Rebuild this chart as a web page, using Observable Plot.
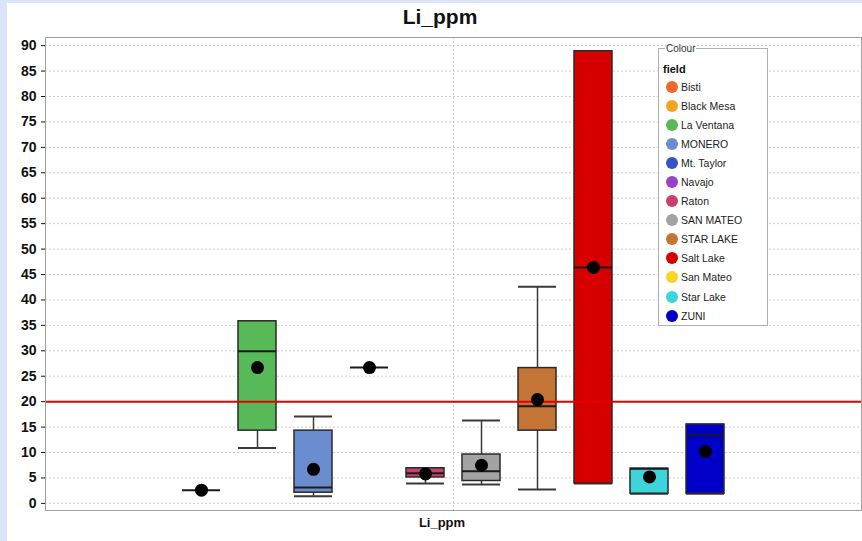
<!DOCTYPE html>
<html>
<head>
<meta charset="utf-8">
<script src="https://cdn.jsdelivr.net/npm/d3@7"></script>
<script src="https://cdn.jsdelivr.net/npm/@observablehq/plot@0.6"></script>
<style>
  html, body { margin: 0; padding: 0; }
  body { width: 862px; height: 541px; background: #dae6f8; position: relative; overflow: hidden; font-family: "Liberation Sans", Arial, sans-serif; }
  #panel { position: absolute; left: 7px; top: 3px; width: 855px; height: 538px; background: #fff; }
  #chart { position: absolute; left: 0; top: 0; }
  #title { position: absolute; left: 433px; top: 2px; transform: translateX(-50%); font-weight: bold; font-size: 21px; color: #111; white-space: nowrap; }
  #xlabel { position: absolute; left: 435px; top: 512px; transform: translateX(-50%); font-weight: bold; font-size: 13px; color: #111; white-space: nowrap; }
  #legend { position: absolute; left: 651px; top: 40px; width: 110px; height: 283px; box-sizing: border-box; margin: 0; padding: 0 0 0 4px; border: 1px solid #b0b0b0; background: #fff; font-family: "Liberation Sans", Arial, sans-serif; }
  #legend legend { font-size: 10px; color: #333; padding: 0 1px; margin-left: 2px; }
  #legend .hdr { font-weight: bold; font-size: 11px; color: #111; margin-top: 9px; height: 14px; }
  #legend .item { display: flex; align-items: center; height: 19.1px; font-size: 10.5px; color: #222; }
  #legend .sw { width: 12px; height: 12px; border-radius: 50%; margin: 0 3px 0 3px; flex: none; }
</style>
</head>
<body>
<div id="panel">
  <div id="chart"></div>
  <div id="title">Li_ppm</div>
  <div id="xlabel">Li_ppm</div>
  <fieldset id="legend"><legend>Colour</legend><div class="hdr">field</div><div id="items"></div></fieldset>
</div>
<script>
// Legend categories and colours
const legendNames = ["Bisti","Black Mesa","La Ventana","MONERO","Mt. Taylor","Navajo","Raton","SAN MATEO","STAR LAKE","Salt Lake","San Mateo","Star Lake","ZUNI"];
const legendColors = ["#f0662b","#f8a320","#57b957","#6b8cce","#3553c9","#9a42c8","#c9416b","#a3a3a3","#c47535","#d60000","#f7d427","#3cd5d9","#0000c8"];

// Series shown in the plot (box statistics, Li ppm)
const series  = ["Bisti","La Ventana","MONERO","Mt. Taylor","Raton","SAN MATEO","STAR LAKE","Salt Lake","Star Lake","ZUNI"];
const mins    = [2.6, 10.9, 1.4, 26.7, 3.9, 3.7, 2.75, 3.9, 1.9, 1.9];
const q1s     = [2.6, 14.3, 2.1, 26.7, 5.1, 4.4, 14.3, 3.9, 1.9, 1.9];
const medians = [2.6, 29.9, 3.1, 26.7, 5.9, 6.3, 19.1, 46.4, 6.8, 13.4];
const q3s     = [2.6, 35.8, 14.3, 26.7, 6.9, 9.6, 26.6, 88.9, 6.8, 15.5];
const maxs    = [2.6, 35.8, 17.1, 26.7, 6.9, 16.3, 42.6, 88.9, 6.8, 15.5];
const means   = [2.6, 26.7, 6.7, 26.7, 5.8, 7.5, 20.4, 46.4, 5.2, 10.2];

const yTicks = [0,5,10,15,20,25,30,35,40,45,50,55,60,65,70,75,80,85,90];
const threshold = [20];

const rows = series.map((s, i) => ({series: s, min: mins[i], q1: q1s[i], median: medians[i], q3: q3s[i], max: maxs[i], mean: means[i]}));
const boxed = rows.filter(d => d.q3 > d.q1);

const chart = Plot.plot({
  width: 855,
  height: 538,
  marginLeft: 38,
  marginRight: 1,
  marginTop: 34,
  marginBottom: 31,
  style: {fontFamily: "Liberation Sans, Arial, sans-serif", fontSize: "14px", fontWeight: "bold", color: "#111", background: "transparent"},
  x: {type: "band", domain: series, paddingInner: 0.317, paddingOuter: 2.39, align: 0.5, axis: null},
  y: {domain: [-1.4, 91.6], ticks: yTicks, tickSize: 4, tickPadding: 5, label: null},
  color: {domain: legendNames, range: legendColors},
  marks: [
    Plot.ruleY(yTicks, {stroke: "#cdcdcd", strokeDasharray: "2,2"}),
    Plot.ruleX([0], {x: null, stroke: "#cdcdcd", strokeDasharray: "2,2"}),
    Plot.ruleX(rows, {x: "series", y1: "q3", y2: "max", stroke: "#3a3a3a", strokeWidth: 1.5}),
    Plot.ruleX(rows, {x: "series", y1: "min", y2: "q1", stroke: "#3a3a3a", strokeWidth: 1.5}),
    Plot.tickY(boxed, {x: "series", y: "max", stroke: "#3a3a3a", strokeWidth: 2}),
    Plot.tickY(boxed, {x: "series", y: "min", stroke: "#3a3a3a", strokeWidth: 2}),
    Plot.barY(rows, {x: "series", y1: "q1", y2: "q3", fill: "series", stroke: "#2a2a2a", strokeWidth: 1.5}),
    Plot.tickY(rows, {x: "series", y: "median", stroke: "#1a1a1a", strokeWidth: 2}),
    Plot.ruleY(threshold, {stroke: "#e40000", strokeWidth: 2}),
    Plot.dot(rows, {x: "series", y: "mean", r: 6.5, fill: "#000", stroke: null}),
    Plot.frame({stroke: "#a0a0a0"})
  ]
});
document.getElementById("chart").appendChild(chart);

const items = document.getElementById("items");
legendNames.forEach((n, i) => {
  const div = document.createElement("div");
  div.className = "item";
  const sw = document.createElement("span");
  sw.className = "sw";
  sw.style.background = legendColors[i];
  div.appendChild(sw);
  div.appendChild(document.createTextNode(n));
  items.appendChild(div);
});
</script>
</body>
</html>
